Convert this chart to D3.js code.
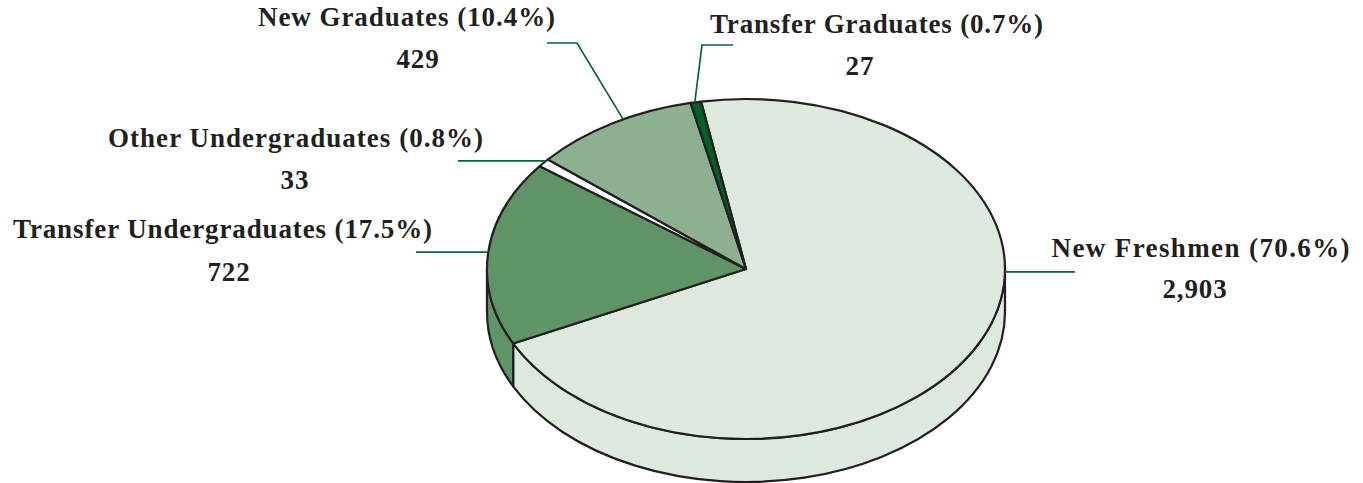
<!DOCTYPE html>
<html>
<head>
<meta charset="utf-8">
<script src="https://cdnjs.cloudflare.com/ajax/libs/d3/7.8.5/d3.min.js"></script>
<style>
  html, body { margin: 0; padding: 0; background: #fff; overflow: hidden; }
  text { font-family: "Liberation Serif", serif; font-weight: bold; font-size: 27px; letter-spacing: 0.9px; fill: #231f20; text-anchor: middle; }
</style>
</head>
<body>
<div id="chart"></div>
<script>
const categories = ['New Freshmen', 'Transfer Undergraduates', 'Other Undergraduates', 'New Graduates', 'Transfer Graduates']
const counts = [2903, 722, 33, 429, 27]
const countLabels = ['2,903', '722', '33', '429', '27']
const percents = ['70.6%', '17.5%', '0.8%', '10.4%', '0.7%']
const colors = ['#dde8de', '#5f9466', '#ffffff', '#8db190', '#006129']

// label placement, same order as categories
const labelX = [1201, 223, 296, 407, 877]
const labelY = [257, 238, 147, 26, 33]
const labelWidth = [299, 420, 376, 298, 334]
const valueX = [1195, 229, 295, 418, 860]
const valueY = [298, 281, 189, 68, 75]
// leaders: where each one leaves the rim (degrees clockwise from top), then elbow and end
const leaderStartDeg = [91, 275.7, 309.5, 331.7, 348.6]
const leaderElbow = [null, null, null, [577, 43], [702, 45]]
const leaderEndX = [1075, 416, 458, 547, 733]

const width = 1363
const height = 483
const cx = 746
const cy = 269
const rx = 259
const ry = 170
const depth = 43
const startDeg = -10

const svg = d3.select('#chart').append('svg').attr('width', width).attr('height', height)

const pie = d3.pie().sort(null)
  .startAngle(startDeg * Math.PI / 180)
  .endAngle((startDeg + 360) * Math.PI / 180)
const slices = pie(counts)

const rim = (a) => [cx + rx * Math.sin(a), cy - ry * Math.cos(a)]

function topPath (d) {
  const [x0, y0] = rim(d.startAngle)
  const [x1, y1] = rim(d.endAngle)
  const large = d.endAngle - d.startAngle > Math.PI ? 1 : 0
  return `M${cx},${cy}L${x0},${y0}A${rx},${ry} 0 ${large} 1 ${x1},${y1}Z`
}

// side wall only exists on the front half of the ellipse
function wallPath (d) {
  const a0 = Math.max(d.startAngle, Math.PI / 2)
  const a1 = Math.min(d.endAngle, Math.PI * 1.5)
  if (a1 <= a0) return null
  const [x0, y0] = rim(a0)
  const [x1, y1] = rim(a1)
  return `M${x0},${y0}A${rx},${ry} 0 0 1 ${x1},${y1}L${x1},${y1 + depth}A${rx},${ry} 0 0 0 ${x0},${y0 + depth}Z`
}

const stroke = '#231f20'

svg.append('g').selectAll('path')
  .data(slices.filter((d) => wallPath(d)))
  .enter().append('path')
  .attr('d', wallPath)
  .attr('fill', (d) => colors[d.index])
  .attr('stroke', stroke)
  .attr('stroke-width', 2.2)
  .attr('stroke-linejoin', 'round')

svg.append('g').selectAll('path')
  .data(slices)
  .enter().append('path')
  .attr('d', topPath)
  .attr('fill', (d) => colors[d.index])
  .attr('stroke', stroke)
  .attr('stroke-width', 2.2)
  .attr('stroke-linejoin', 'round')

const leader = d3.line()
svg.append('g').selectAll('path')
  .data(slices)
  .enter().append('path')
  .attr('d', (d) => {
    const i = d.index
    const start = rim(leaderStartDeg[i] * Math.PI / 180)
    const elbow = leaderElbow[i]
    // lines without an elbow run flat from the rim
    const end = [leaderEndX[i], elbow ? elbow[1] : start[1]]
    return leader([start, elbow, end].filter(Boolean))
  })
  .attr('fill', 'none')
  .attr('stroke', '#006633')
  .attr('stroke-width', 1.7)

svg.append('g').selectAll('text')
  .data(categories)
  .enter().append('text')
  .attr('x', (d, i) => labelX[i])
  .attr('y', (d, i) => labelY[i])
  .attr('textLength', (d, i) => labelWidth[i])
  .text((d, i) => `${d} (${percents[i]})`)

svg.append('g').selectAll('text')
  .data(countLabels)
  .enter().append('text')
  .attr('x', (d, i) => valueX[i])
  .attr('y', (d, i) => valueY[i])
  .text((d) => d)
</script>
</body>
</html>
